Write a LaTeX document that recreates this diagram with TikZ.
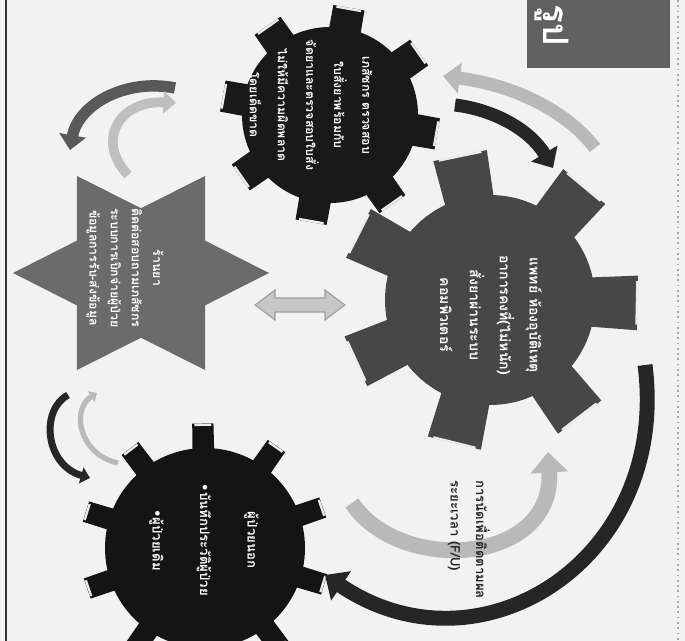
\documentclass[tikz,border=0pt]{standalone}
\usepackage{fontspec}
\newfontfamily\thaifont[Script=Thai]{Loma}
\newfontfamily\symfont{DejaVu Sans}
\usetikzlibrary{arrows.meta}

% gear: centre x, centre y, body radius, tip radius, teeth, half angle, first angle, colour
\newcommand{\gearbody}[8]{%
  \begin{scope}[shift={(#1,#2)}]
    \fill[#8] (0,0) circle [radius=#3];
    \foreach \k in {1,...,#5} {
      \pgfmathsetmacro{\ang}{#7+360/#5*(\k-1)}
      \fill[#8] (\ang-#6:#3-4) -- (\ang-0.75*#6:#4) -- (\ang+0.75*#6:#4) -- (\ang+#6:#3-4) -- cycle;
      \draw[white!85!gray, line width=1.3pt] (\ang-0.6*#6:#4-1.5) -- (\ang+0.6*#6:#4-1.5);
    }
  \end{scope}
}

\begin{document}
\begin{tikzpicture}[x=0.02cm, y=-0.02cm,
  gtxt/.style={rotate=-90, text=white, align=center, inner sep=0pt},
  blkarr/.style={line width=#1, black!85, -{Triangle[width=0pt 2.3, length=0pt 1.3]}},
  gryarr/.style={line width=#1, gray!55, -{Triangle[width=0pt 2.3, length=0pt 1.3]}}
]
\fill[gray!10] (0,0) rectangle (685,641);
\useasboundingbox (0,0) rectangle (685,641);
\draw[black!80, line width=1.2pt] (6,0) -- (6,641);
\draw[gray!70, dotted, line width=1pt] (678,0) -- (678,641);

% title box
\fill[black!62] (527,0) rectangle (670,68);
\node[gtxt, anchor=west, font=\thaifont\bfseries\fontsize{20}{20}\selectfont] (title) at (552,4) {รูป};

% gears
\coordinate (topgear) at (330,115);
\coordinate (biggear) at (490,300);
\coordinate (lowgear) at (205,548);
\gearbody{330}{115}{88}{110}{8}{11}{-80}{black!90}
\gearbody{490}{300}{105}{150}{7}{14}{104}{black!72}
\gearbody{205}{548}{100}{125}{10}{6.5}{-127}{black!92}

% star
\begin{scope}[shift={(141,273)}, yscale=0.875]
  \fill[black!58] (0:128) -- (30:74) -- (60:128) -- (90:74) -- (120:128) -- (150:74)
    -- (180:128) -- (210:74) -- (240:128) -- (270:74) -- (300:128) -- (330:74) -- cycle;
\end{scope}

% double arrow star <-> doctor
\coordinate (dbl-l) at (255,305);
\coordinate (dbl-r) at (345,305);
\filldraw[fill=gray!45, draw=gray!75, line width=0.6pt] (dbl-l) -- ++(20,-15) -- ++(0,8) -- ++(50,0)
  -- ++(0,-8) -- (dbl-r) -- ++(-20,15) -- ++(0,-8) -- ++(-50,0) -- ++(0,8) -- cycle;

% curved arrows
\coordinate (tr-g0) at (595,148); \coordinate (tr-g1) at (443,76);
\coordinate (tr-b0) at (455,105); \coordinate (tr-b1) at (553,168);
\draw[gryarr=7.4pt] (tr-g0) .. controls (570,115) and (520,86) .. (tr-g1);
\draw[blkarr=7.4pt] (tr-b0) .. controls (495,110) and (530,130) .. (tr-b1);

\coordinate (tl-d0) at (175,88); \coordinate (tl-d1) at (70,150);
\coordinate (tl-g0) at (128,175); \coordinate (tl-g1) at (176,103);
\draw[blkarr=6.5pt, black!65] (tl-d0) .. controls (125,78) and (78,105) .. (tl-d1);
\draw[gryarr=5.5pt, gray!50] (tl-g0) .. controls (95,140) and (120,100) .. (tl-g1);

\coordinate (bl-b0) at (68,395); \coordinate (bl-b1) at (90,478);
\coordinate (bl-g0) at (118,463); \coordinate (bl-g1) at (97,393);
\draw[blkarr=4pt] (bl-b0) .. controls (40,410) and (45,465) .. (bl-b1);
\draw[gryarr=3pt] (bl-g0) .. controls (80,455) and (70,410) .. (bl-g1);

\coordinate (bt-b0) at (645,365); \coordinate (bt-b1) at (325,575);
\coordinate (bt-g0) at (352,503); \coordinate (bt-g1) at (548,452);
\draw[blkarr=8.5pt] (bt-b0) .. controls (670,560) and (480,680) .. (bt-b1);
\draw[gryarr=9pt] (bt-g0) .. controls (400,575) and (555,565) .. (bt-g1);

% texts
\node[gtxt, font=\thaifont\bfseries\fontsize{7}{16}\selectfont] (pharm) at (311,105)
  {เภสัชกร ตรวจสอบ\\ใบสั่งยาพร้อมกับ\\จัดยาและตรวจสอบใบสั่ง\\ไม่ให้มีความผิดพลาด\\โดยเด็ดขาด};
\node[gtxt, font=\thaifont\bfseries\fontsize{8}{17}\selectfont] (doctor) at (491,315)
  {แพทย์ ห้องอุบัติเหตุ\\อาการคงที่(ไม่หนัก)\\สั่งยาผ่านระบบ\\คอมพิวเตอร์};
\node[gtxt, font=\thaifont\bfseries\fontsize{7}{12}\selectfont] (shop) at (125,268)
  {ร้านยา\\ติดต่อสอบถามเภสัชกร\\ระบบการเบิกจ่ายผู้ป่วย\\ข้อมูลการรับ-ส่งข้อมูล};
\node[gtxt, font=\thaifont\bfseries\fontsize{7.5}{27}\selectfont] (patient) at (204,540)
  {ผู้ป่วยนอก\\{\symfont •}บันทึกประวัติผู้ป่วย\\{\symfont •}ผู้ป่วยเดิม};
\node[rotate=-90, anchor=north west, align=left, inner sep=0pt, text=black!85,
  font=\thaifont\bfseries\fontsize{7.5}{14.5}\selectfont] (fu) at (490,480)
  {การนัดเพื่อติดตามผล\\ระยะเวลา (F/U)};
\end{tikzpicture}
\end{document}
